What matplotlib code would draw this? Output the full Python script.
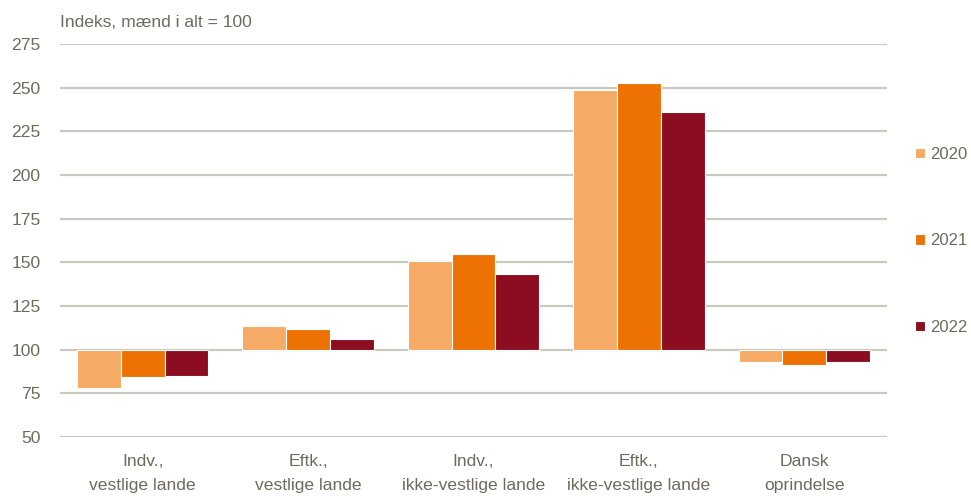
import numpy as np
import matplotlib.pyplot as plt

plt.rcParams['font.family'] = ['Liberation Sans', 'DejaVu Sans']

# Data
categories = ['Indv.,\nvestlige lande', 'Eftk.,\nvestlige lande',
              'Indv.,\nikke-vestlige lande', 'Eftk.,\nikke-vestlige lande',
              'Dansk\noprindelse']
years = ['2020', '2021', '2022']
v2020 = [78.3, 113.7, 150.7, 248.6, 92.7]
v2021 = [84.4, 111.8, 154.7, 252.5, 91.4]
v2022 = [84.7, 106.3, 143.5, 236.3, 92.7]
yticks = [50, 75, 100, 125, 150, 175, 200, 225, 250, 275]

colors = ['#F5AB65', '#EE7203', '#8C0D21']
text_col = '#6B6B5E'
grid_col = '#C9C9BF'
fs = 12.6

fig = plt.figure(figsize=(9.71, 4.97), dpi=100)
ax = fig.add_axes([0.0618, 0.1207, 0.8517, 0.7908])

x = np.arange(len(categories))
w = 0.265
bars = []
for i, (vals, c) in enumerate(zip([v2020, v2021, v2022], colors)):
    vals = np.array(vals)
    b = ax.bar(x + (i - 1) * w, vals - 100, bottom=100, width=w, color=c,
               edgecolor='white', linewidth=0.8, zorder=3, label=years[i])
    bars.append(b)

ax.set_ylim(50, 275)
ax.set_xlim(-0.5, len(categories) - 0.5)
ax.set_yticks(yticks)
ax.set_xticks(x)
ax.set_xticklabels(categories, linespacing=1.8)
ax.yaxis.grid(True, color=grid_col, linewidth=1.6, zorder=0)
ax.set_axisbelow(True)
for s in ax.spines.values():
    s.set_visible(False)
ax.tick_params(axis='y', length=0, pad=14, labelsize=fs, labelcolor=text_col)
ax.tick_params(axis='x', length=0, pad=12, labelsize=fs, labelcolor=text_col)

fig.text(0.0618, 0.955, 'Indeks, mænd i alt = 100', fontsize=fs,
         color=text_col, ha='left', va='center')

leg = fig.legend(handles=bars, labels=years, loc='upper left',
                 bbox_to_anchor=(0.927, 0.735), frameon=False, fontsize=12,
                 handlelength=0.6, handleheight=0.6, handletextpad=0.3,
                 labelspacing=4.3, labelcolor=text_col)

fig.savefig('out.png', dpi=100)
